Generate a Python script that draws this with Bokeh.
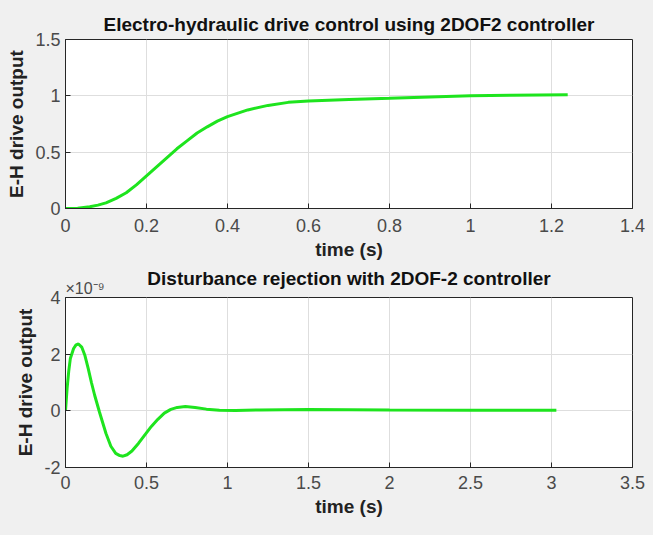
from bokeh.plotting import figure
from bokeh.layouts import column
from bokeh.models import FixedTicker, Range1d, Title
from bokeh.embed import file_html
from bokeh.resources import INLINE

# ---- data: step response (top) ----
t_step = [0, 0.03, 0.06, 0.08, 0.1, 0.125, 0.15, 0.175, 0.2, 0.225, 0.25, 0.275, 0.3,
          0.325, 0.35, 0.375, 0.4, 0.45, 0.5, 0.55, 0.6, 0.7, 0.8, 0.9, 1.0, 1.1, 1.24]
y_step = [0, 0.003, 0.015, 0.03, 0.05, 0.09, 0.14, 0.21, 0.29, 0.37, 0.45, 0.53, 0.6,
          0.67, 0.725, 0.775, 0.815, 0.875, 0.915, 0.942, 0.955, 0.968, 0.978, 0.99, 1.0, 1.005, 1.01]

# ---- data: disturbance rejection (bottom), in units of 1e-9 ----
t_dist = [0, 0.01, 0.02, 0.03, 0.05, 0.065, 0.08, 0.1, 0.12, 0.14, 0.16, 0.18, 0.21,
          0.25, 0.28, 0.31, 0.335, 0.355, 0.38, 0.41, 0.45, 0.49, 0.53, 0.57, 0.61,
          0.65, 0.69, 0.74, 0.8, 0.87, 0.95, 1.05, 1.2, 1.5, 2.0, 2.5, 3.03]
y_dist = [0, 0.8, 1.4, 1.85, 2.2, 2.33, 2.36, 2.25, 1.95, 1.5, 1.0, 0.55, -0.05,
          -0.8, -1.25, -1.5, -1.58, -1.6, -1.55, -1.42, -1.15, -0.85, -0.55, -0.3, -0.08,
          0.05, 0.12, 0.15, 0.12, 0.06, 0.02, 0.01, 0.03, 0.05, 0.03, 0.02, 0.02]
dist_scale_text = "×10⁻⁹"

top_title = "Electro-hydraulic drive control using 2DOF2 controller"
bot_title = "Disturbance rejection with 2DOF-2 controller"
x_label = "time (s)"
y_label = "E-H drive output"

top_xticks = [0, 0.2, 0.4, 0.6, 0.8, 1.0, 1.2, 1.4]
top_xlabels = ["0", "0.2", "0.4", "0.6", "0.8", "1", "1.2", "1.4"]
top_yticks = [0, 0.5, 1, 1.5]
top_ylabels = ["0", "0.5", "1", "1.5"]
bot_xticks = [0, 0.5, 1, 1.5, 2, 2.5, 3, 3.5]
bot_xlabels = ["0", "0.5", "1", "1.5", "2", "2.5", "3", "3.5"]
bot_yticks = [-2, 0, 2, 4]
bot_ylabels = ["-2", "0", "2", "4"]

FONT = "Liberation Sans"
BG = "#f0f0f0"
GREEN = "#1ee41e"
TICK_COL = "#4a4a4a"


def make_title(text, standoff):
    return Title(text=text, align="center", standoff=standoff, text_font=FONT,
                 text_font_size="19px", text_font_style="bold", text_color="#111111")


def style(p, xt, xl, yt, yl):
    p.background_fill_color = "white"
    p.border_fill_color = BG
    p.outline_line_color = "#262626"
    p.outline_line_width = 1
    for ax, ticks, labels in ((p.xaxis[0], xt, xl), (p.yaxis[0], yt, yl)):
        ax.ticker = FixedTicker(ticks=ticks)
        ax.major_label_overrides = {t: l for t, l in zip(ticks, labels)}
        ax.major_tick_in = 5
        ax.major_tick_out = 0
        ax.minor_tick_line_color = None
        ax.axis_line_color = "#262626"
        ax.major_tick_line_color = "#262626"
        ax.major_label_text_font = FONT
        ax.major_label_text_font_size = "18px"
        ax.major_label_text_color = TICK_COL
        ax.axis_label_text_font = FONT
        ax.axis_label_text_font_size = "19px"
        ax.axis_label_text_font_style = "bold"
        ax.axis_label_text_color = "#222222"
    p.xaxis.major_label_standoff = 8
    p.yaxis.major_label_standoff = 5
    p.xaxis.axis_label_standoff = 4
    p.yaxis.axis_label_standoff = 5
    p.grid.grid_line_color = "#dedede"
    p.grid.grid_line_width = 1


top = figure(width=653, height=262, output_backend="svg", toolbar_location=None,
             x_range=Range1d(0, 1.4), y_range=Range1d(0, 1.5),
             x_axis_label=x_label, y_axis_label=y_label, title_location=None,
             min_border_left=65, min_border_right=21, min_border_top=39, min_border_bottom=53)
top.line(t_step, y_step, line_color=GREEN, line_width=3)
style(top, top_xticks, top_xlabels, top_yticks, top_ylabels)
top.xaxis.major_label_standoff = 10
top.add_layout(make_title(top_title, 9), "above")

bot = figure(width=653, height=273, output_backend="svg", toolbar_location=None,
             x_range=Range1d(0, 3.5), y_range=Range1d(-2, 4),
             x_axis_label=x_label, y_axis_label=y_label, title_location=None,
             min_border_left=65, min_border_right=21, min_border_top=35, min_border_bottom=68)
bot.line(t_dist, y_dist, line_color=GREEN, line_width=3)
style(bot, bot_xticks, bot_xlabels, bot_yticks, bot_ylabels)
bot.add_layout(Title(text=dist_scale_text, align="left", standoff=1, offset=0,
                     text_font=FONT, text_font_size="16px", text_font_style="normal",
                     text_color=TICK_COL), "above")
bot.add_layout(make_title(bot_title, -23), "above")

layout = column(top, bot, spacing=0, styles={"background-color": BG})
open("out.html", "w").write(file_html(layout, INLINE))
